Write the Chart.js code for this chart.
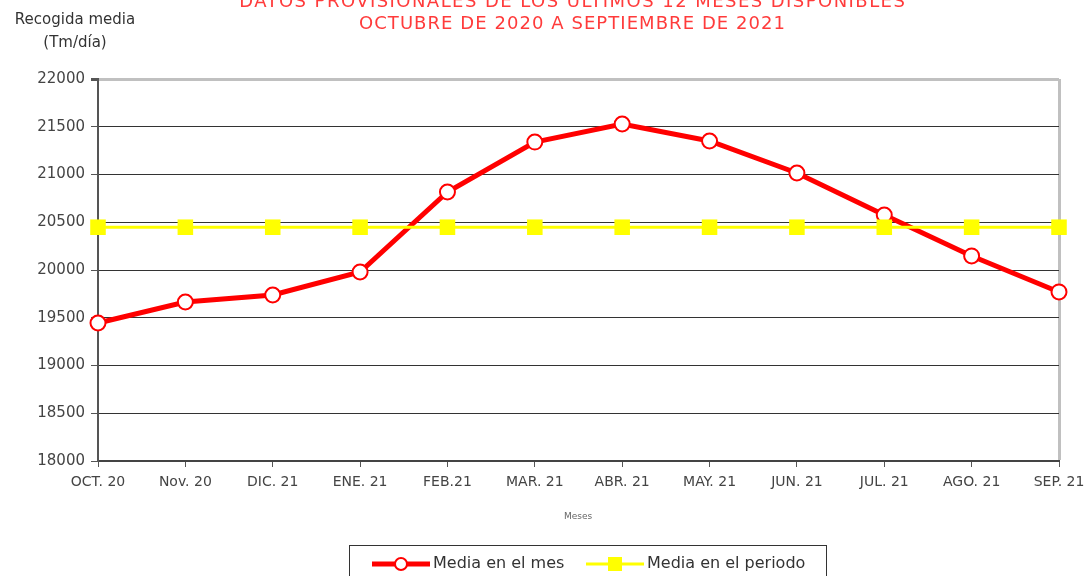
<!DOCTYPE html>
<html>
<head>
<meta charset="utf-8">
<script src="https://cdn.jsdelivr.net/npm/chart.js@4/dist/chart.umd.min.js"></script>
<style>
  html, body { margin: 0; padding: 0; background: #fff; overflow: hidden; }
  #wrap { position: relative; width: 1087px; height: 576px; }
</style>
</head>
<body>
<div id="wrap"><canvas id="mainChart" width="1087" height="576"></canvas></div>
<script>
const meses = ['OCT. 20', 'Nov. 20', 'DIC. 21', 'ENE. 21', 'FEB.21', 'MAR. 21', 'ABR. 21', 'MAY. 21', 'JUN. 21', 'JUL. 21', 'AGO. 21', 'SEP. 21'];
const mediaMes = [19445, 19665, 19738, 19979, 20817, 21340, 21529, 21351, 21016, 20576, 20147, 19770];
const mediaPeriodo = [20448, 20448, 20448, 20448, 20448, 20448, 20448, 20448, 20448, 20448, 20448, 20448];
const titulo = ['DATOS PROVISIONALES DE LOS ÚLTIMOS 12 MESES DISPONIBLES', 'OCTUBRE DE 2020 A SEPTIEMBRE DE 2021'];
const ejeY = ['Recogida media', '(Tm/día)'];

const fuente = "'DejaVu Sans', sans-serif";

// stretch a line of text to a given width with letter spacing
function textoAncho(c, txt, x, y, ancho) {
  c.letterSpacing = '0px';
  const w = c.measureText(txt).width;
  const extra = (ancho - w) / txt.length;
  c.letterSpacing = extra.toFixed(2) + 'px';
  c.fillText(txt, x + extra / 2, y);
  c.letterSpacing = '0px';
}

// titles, axis caption and the boxed legend are painted by hand
const extras = {
  id: 'extras',
  afterDraw(chart) {
    const c = chart.ctx;
    c.save();
    c.textAlign = 'center';
    c.textBaseline = 'middle';
    c.fillStyle = '#ff3b3b';
    c.font = '18px ' + fuente;
    textoAncho(c, titulo[0], 572, 2, 667);
    textoAncho(c, titulo[1], 572, 24, 427);

    c.fillStyle = '#333';
    c.font = '15px ' + fuente;
    c.fillText(ejeY[0], 75, 20);
    c.fillText(ejeY[1], 75, 43);

    c.fillStyle = '#666';
    c.font = '9px ' + fuente;
    c.fillText('Meses', 578, 517);

    // legend box
    c.strokeStyle = '#333';
    c.lineWidth = 1;
    c.strokeRect(349.5, 545.5, 477, 50);
    const items = [
      { ds: chart.data.datasets[0], x: 372, label: 'Media en el mes' },
      { ds: chart.data.datasets[1], x: 586, label: 'Media en el periodo' }
    ];
    items.forEach(it => {
      const y = 564;
      c.strokeStyle = it.ds.borderColor;
      c.lineWidth = it.ds.borderWidth;
      c.beginPath();
      c.moveTo(it.x, y);
      c.lineTo(it.x + 58, y);
      c.stroke();
      c.fillStyle = it.ds.pointBackgroundColor;
      c.strokeStyle = it.ds.pointBorderColor;
      c.lineWidth = it.ds.pointBorderWidth;
      c.beginPath();
      if (it.ds.pointStyle === 'rect') {
        c.rect(it.x + 29 - 7, y - 7, 14, 14);
        c.fill();
      } else {
        c.arc(it.x + 29, y, 6, 0, Math.PI * 2);
        c.fill();
        c.stroke();
      }
      c.fillStyle = '#333';
      c.font = '16px ' + fuente;
      c.textAlign = 'left';
      c.fillText(it.label, it.x + 61, y);
    });
    c.restore();
  }
};

const ctx = document.getElementById('mainChart').getContext('2d');
new Chart(ctx, {
  type: 'line',
  data: {
    labels: meses,
    datasets: [{
      label: 'Media en el mes',
      data: mediaMes,
      borderColor: '#ff0000',
      borderWidth: 5,
      pointStyle: 'circle',
      pointRadius: 7.5,
      pointBackgroundColor: '#ffffff',
      pointBorderColor: '#ff0000',
      pointBorderWidth: 2,
      order: 2
    }, {
      label: 'Media en el periodo',
      data: mediaPeriodo,
      borderColor: '#ffff00',
      borderWidth: 3,
      pointStyle: 'rect',
      pointRadius: 11,
      pointBackgroundColor: '#ffff00',
      pointBorderColor: '#ffff00',
      pointBorderWidth: 0,
      order: 1
    }]
  },
  options: {
    responsive: false,
    animation: false,
    layout: { padding: { left: 0, right: 28, top: 79, bottom: 0 } },
    plugins: { legend: { display: false }, tooltip: { enabled: false } },
    scales: {
      x: {
        offset: false,
        afterFit(s) { s.height = 115; s.paddingLeft = 0; s.paddingRight = 0; },
        grid: {
          drawOnChartArea: true,
          color: c => c.index === meses.length - 1 ? '#c0c0c0' : 'rgba(0,0,0,0)',
          lineWidth: c => c.index === meses.length - 1 ? 3 : 1,
          tickColor: '#555',
          tickWidth: 1,
          tickLength: 6
        },
        border: { color: '#444', width: 2 },
        ticks: { color: '#444', font: { family: fuente, size: 14 }, padding: 7, maxRotation: 0, autoSkip: false }
      },
      y: {
        min: 18000,
        max: 22000,
        afterFit(s) { s.width = 98; s.paddingTop = 0; s.paddingBottom = 0; },
        grid: {
          color: c => c.tick && c.tick.value === 22000 ? '#c0c0c0' : '#333',
          lineWidth: c => c.tick && c.tick.value === 22000 ? 3 : 1,
          tickColor: '#555',
          tickLength: 7
        },
        border: { color: '#555', width: 2 },
        ticks: { stepSize: 500, color: '#444', font: { family: fuente, size: 15 }, padding: 6, callback: v => String(v) }
      }
    }
  },
  plugins: [extras]
});
</script>
</body>
</html>
